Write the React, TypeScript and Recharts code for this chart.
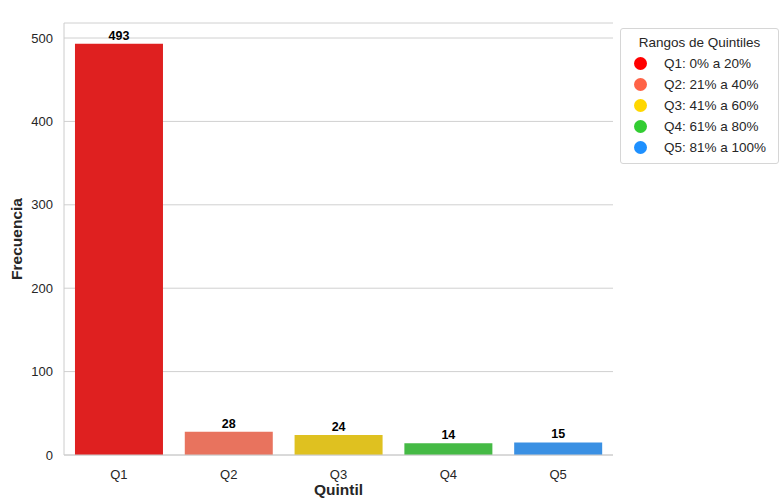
import React from 'react';
import { BarChart, Bar, XAxis, YAxis, CartesianGrid, Cell, LabelList } from 'recharts';

const quintiles = ['Q1', 'Q2', 'Q3', 'Q4', 'Q5'];
const counts = [493, 28, 24, 14, 15];
const yTicks = [0, 100, 200, 300, 400, 500];
const rangeLabels = ['Q1: 0% a 20%', 'Q2: 21% a 40%', 'Q3: 41% a 60%', 'Q4: 61% a 80%', 'Q5: 81% a 100%'];
const markerColors = ['#ff0000', '#ff6347', '#ffd700', '#32cd32', '#1e90ff'];
const barColors = ['#df2020', '#e8735e', '#dfc120', '#45ba45', '#3a90e3'];

const data = quintiles.map((q, i) => ({ quintil: q, frecuencia: counts[i] }));

const font = '"Liberation Sans", Arial, sans-serif';

// legend box sits outside the plot, top right like the matplotlib one
const QuintileLegend = () => (
  <div
    style={{
      position: 'absolute',
      left: 620,
      top: 28,
      background: '#fff',
      border: '1px solid #d6d6d6',
      borderRadius: 3,
      width: 159,
      boxSizing: 'border-box',
      padding: '3px 0 5px 0',
      fontFamily: font,
      fontSize: 13.5,
      color: '#262626',
    }}
  >
    <div style={{ textAlign: 'center', height: 21, lineHeight: '21px' }}>Rangos de Quintiles</div>
    {rangeLabels.map((label, i) => (
      <div key={label} style={{ display: 'flex', alignItems: 'center', height: 21 }}>
        <span
          style={{
            display: 'inline-block',
            width: 13,
            height: 13,
            borderRadius: '50%',
            background: markerColors[i],
            marginLeft: 13,
            marginRight: 17,
          }}
        />
        <span>{label}</span>
      </div>
    ))}
  </div>
);

export default function App() {
  return (
    <div style={{ position: 'absolute', left: 0, top: 0, width: 783, height: 500, background: '#fff' }}>
      <BarChart
        width={783}
        height={500}
        data={data}
        margin={{ top: 23, right: 170, bottom: 15, left: 24 }}
        barCategoryGap="10%"
      >
        <CartesianGrid vertical={false} stroke="#d0d0d0" strokeWidth={1} />
        <XAxis
          dataKey="quintil"
          height={30}
          axisLine={{ stroke: '#cccccc' }}
          tickLine={false}
          tickMargin={9}
          tick={{ fill: '#262626', fontSize: 13, fontFamily: font }}
          label={{ value: 'Quintil', position: 'insideBottom', offset: -10, fill: '#262626', fontSize: 15.5, fontWeight: 'bold', fontFamily: font }}
        />
        <XAxis xAxisId="top" orientation="top" dataKey="quintil" height={0} tick={false} tickLine={false} axisLine={{ stroke: '#cccccc' }} />
        <YAxis
          width={40}
          domain={[0, 518]}
          ticks={yTicks}
          axisLine={{ stroke: '#cccccc' }}
          tickLine={false}
          tickMargin={5}
          tick={{ fill: '#262626', fontSize: 13, fontFamily: font }}
          label={{ value: 'Frecuencia', angle: -90, position: 'insideLeft', offset: -8, textAnchor: 'middle', fill: '#262626', fontSize: 15.5, fontWeight: 'bold', fontFamily: font }}
        />
        <YAxis yAxisId="right" orientation="right" width={0} domain={[0, 518]} tick={false} tickLine={false} axisLine={{ stroke: '#cccccc' }} />
        <Bar dataKey="frecuencia" isAnimationActive={false}>
          {data.map((d, i) => (
            <Cell key={d.quintil} fill={barColors[i]} />
          ))}
          <LabelList
            dataKey="frecuencia"
            position="top"
            offset={4}
            fill="#000"
            fontSize={12.5}
            fontWeight="bold"
            fontFamily={font}
          />
        </Bar>
      </BarChart>
      <QuintileLegend />
    </div>
  );
}
